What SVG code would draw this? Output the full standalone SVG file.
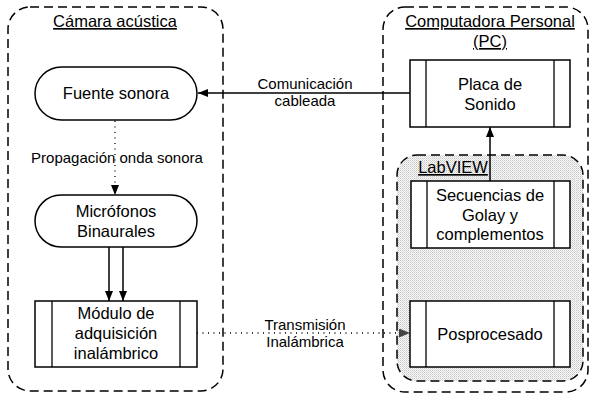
<svg xmlns="http://www.w3.org/2000/svg" width="594" height="398" viewBox="0 0 594 398">
<defs>
<pattern id="dots" width="2" height="2" patternUnits="userSpaceOnUse">
<rect width="2" height="2" fill="#fafafa"/>
<rect width="1" height="1" fill="#c4c4c4"/>
<rect x="1" y="1" width="1" height="1" fill="#dcdcdc"/>
</pattern>
<marker id="ah" markerWidth="10" markerHeight="8" refX="10" refY="4" orient="auto" markerUnits="userSpaceOnUse">
<path d="M0,0 L10,4 L0,8 Z" fill="#000"/>
</marker>
<marker id="ahg" markerWidth="11" markerHeight="9" refX="11" refY="4.5" orient="auto" markerUnits="userSpaceOnUse">
<path d="M0,0 L11,4.5 L0,9 Z" fill="#444"/>
</marker>
</defs>
<style>
text{font-family:"Liberation Sans",Arial,sans-serif;fill:#000;text-anchor:middle}
.n{font-size:16.5px}
.l{font-size:15px}
.t{font-size:16.5px;text-decoration:underline}
.box{fill:#fff;stroke:#000;stroke-width:1.5}
.in{stroke:#000;stroke-width:1.3}
.cont{fill:none;stroke:#000;stroke-width:1.5;stroke-dasharray:9,5}
.edge{fill:none;stroke:#000;stroke-width:1.5}
.dot{fill:none;stroke:#000;stroke-width:1.3;stroke-dasharray:1,4.5}
</style>

<g id="camara">
<rect class="cont" x="8" y="7" width="215" height="384" rx="22" ry="22"/>
<text class="t" x="115" y="27">Cámara acústica</text>
</g>

<g id="pc">
<rect class="cont" x="383" y="7" width="205" height="385" rx="22" ry="22"/>
<text class="t" x="490" y="27">Computadora Personal</text>
<text class="t" x="490" y="47">(PC)</text>
</g>

<g id="labview">
<rect x="397" y="155" width="186" height="226" rx="20" ry="20" fill="url(#dots)" stroke="#000" stroke-width="1.5" stroke-dasharray="9,5"/>
<text class="t" x="453" y="173">LabVIEW</text>
</g>

<g id="connectors">
<line class="edge" x1="410" y1="93" x2="198" y2="93" marker-end="url(#ah)"/>
<line class="dot" x1="115" y1="121" x2="115" y2="195" marker-end="url(#ah)"/>
<line class="edge" x1="109" y1="247" x2="109" y2="301" marker-end="url(#ah)"/>
<line class="edge" x1="123" y1="247" x2="123" y2="301" marker-end="url(#ah)"/>
<line class="edge" x1="490" y1="181" x2="490" y2="127" marker-end="url(#ah)"/>
<line class="dot" x1="197" y1="333" x2="410" y2="333" marker-end="url(#ahg)"/>
<text class="l" x="305" y="89">Comunicación</text>
<text class="l" x="305" y="106">cableada</text>
<text class="l" x="117" y="163">Propagación onda sonora</text>
<text class="l" x="305" y="330">Transmisión</text>
<text class="l" x="305" y="347">Inalámbrica</text>
</g>

<g id="fuente">
<rect class="box" x="35" y="67" width="162" height="53" rx="26.5" ry="26.5"/>
<text class="n" x="116" y="99">Fuente sonora</text>
</g>

<g id="microfonos">
<rect class="box" x="35" y="195" width="162" height="52" rx="26" ry="26"/>
<text class="n" x="116" y="217">Micrófonos</text>
<text class="n" x="116" y="237">Binaurales</text>
</g>

<g id="modulo">
<rect class="box" x="35" y="301" width="162" height="66"/>
<line class="in" x1="52" y1="301" x2="52" y2="367"/>
<line class="in" x1="180" y1="301" x2="180" y2="367"/>
<text class="n" x="116" y="319">Módulo de</text>
<text class="n" x="116" y="339">adquisición</text>
<text class="n" x="116" y="359">inalámbrico</text>
</g>

<g id="placa">
<rect class="box" x="410" y="60" width="160" height="67"/>
<line class="in" x1="426" y1="60" x2="426" y2="127"/>
<line class="in" x1="554" y1="60" x2="554" y2="127"/>
<text class="n" x="490" y="90">Placa de</text>
<text class="n" x="490" y="110">Sonido</text>
</g>

<g id="secuencias">
<rect class="box" x="411" y="181" width="159" height="67"/>
<line class="in" x1="427" y1="181" x2="427" y2="248"/>
<line class="in" x1="554" y1="181" x2="554" y2="248"/>
<text class="n" x="490" y="201">Secuencias de</text>
<text class="n" x="490" y="221">Golay y</text>
<text class="n" x="490" y="240">complementos</text>
</g>

<g id="posprocesado">
<rect class="box" x="410" y="301" width="160" height="66"/>
<line class="in" x1="426" y1="301" x2="426" y2="367"/>
<line class="in" x1="554" y1="301" x2="554" y2="367"/>
<text class="n" x="490" y="340">Posprocesado</text>
</g>
</svg>
